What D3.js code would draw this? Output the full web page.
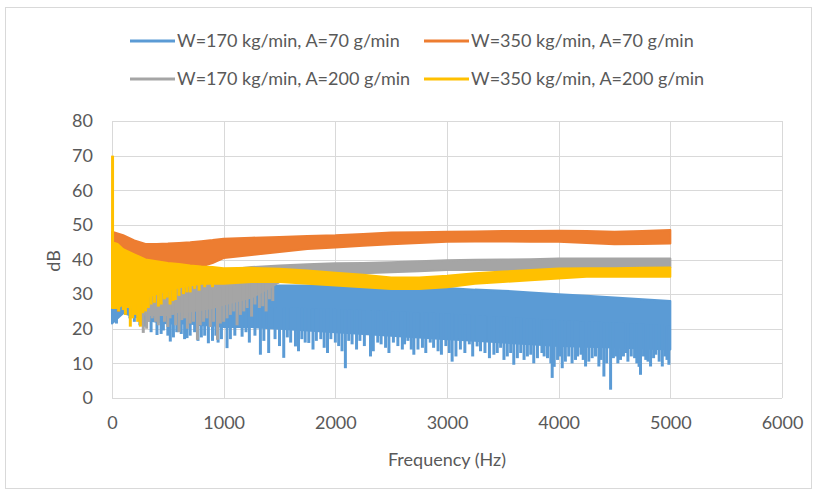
<!DOCTYPE html>
<html>
<head>
<meta charset="utf-8">
<script src="https://cdn.jsdelivr.net/npm/d3@7"></script>
<style>
  body { margin: 0; background: #fff; }
  svg text { font-family: Lato, "Open Sans", sans-serif; fill: #595959; }
</style>
</head>
<body>
<svg id="chart" width="817" height="494"></svg>
<script>
// sample frequencies (Hz) at which the band edges were read
var freqs = [0, 50, 100, 200, 300, 400, 500, 600, 700, 800, 900, 1000, 1250, 1500, 1750, 2000, 2250, 2500, 2750, 3000, 3250, 3500, 3750, 4000, 4250, 4500, 4750, 5000];

// W=170 kg/min, A=70 g/min
var blueTop = [29, 28, 27.5, 27, 28, 29, 30, 30.5, 31, 31, 31.5, 32, 32, 32.5, 32.5, 32.5, 32.3, 32.2, 32, 31.8, 31.3, 31, 30.5, 30, 29.5, 29, 28.5, 28];
var blueBottom = [21.5, 23, 24.5, 23.5, 22.5, 22, 21.5, 21.5, 21.5, 21, 21, 20.5, 20.5, 20, 19.5, 19, 18.5, 18, 17.5, 17, 16.5, 16, 15.5, 15, 14.8, 14.6, 14.3, 14];
var blueSpikes = [[40, 21.5], [160, 23], [200, 22], [250, 21], [298, 20.6], [350, 19], [403, 18.2], [440, 18.5], [460, 19.5], [500, 18], [522, 16.3], [550, 17.5], [580, 19], [620, 18.5], [650, 17], [672, 17.3], [700, 18], [740, 19], [770, 16.5], [800, 17.5], [830, 18], [863, 15.8], [900, 16.5], [930, 18], [950, 16], [980, 17], [1030, 14.4], [1060, 17], [1100, 18], [1165, 17.7], [1200, 19], [1230, 16], [1280, 18], [1329, 12.5], [1360, 16.5], [1403, 13], [1460, 17], [1500, 15], [1538, 11.6], [1570, 17.5], [1600, 16], [1643, 14.9], [1670, 13.5], [1700, 17], [1730, 16], [1762, 15.9], [1800, 14], [1830, 16.5], [1870, 17], [1900, 14.5], [1930, 13], [1960, 17], [2000, 16], [2030, 15], [2060, 13.5], [2090, 8.6], [2120, 16.5], [2150, 15.5], [2190, 14], [2220, 16.5], [2260, 15], [2315, 12], [2340, 13.5], [2380, 16], [2410, 15.5], [2450, 14.5], [2480, 13], [2520, 16], [2560, 15], [2600, 14], [2620, 15.5], [2650, 16.5], [2680, 14], [2703, 12.5], [2740, 14], [2780, 14.5], [2810, 13], [2850, 16], [2880, 14.5], [2920, 13.5], [2950, 12.5], [2990, 15], [3020, 13], [3046, 10.5], [3080, 12], [3120, 14], [3160, 13], [3200, 15.5], [3230, 12], [3270, 14.9], [3300, 13.5], [3340, 13], [3380, 11.5], [3420, 12.5], [3450, 13], [3480, 14.5], [3510, 11], [3540, 12], [3570, 13], [3598, 9.6], [3630, 11.5], [3660, 13], [3690, 11], [3720, 12], [3750, 12.5], [3777, 10], [3810, 11.5], [3850, 13], [3870, 12], [3900, 11.5], [3930, 10], [3942, 5.8], [3960, 9], [3990, 11], [4010, 12], [4032, 8.6], [4060, 10.5], [4090, 12], [4120, 10], [4151, 11], [4170, 12], [4200, 12.5], [4220, 11], [4241, 9.1], [4270, 10.5], [4300, 11.5], [4330, 12], [4360, 9.1], [4380, 11], [4405, 6.2], [4430, 10], [4465, 2.4], [4490, 11.5], [4510, 12], [4530, 10], [4554, 11], [4580, 12], [4600, 13], [4620, 10.5], [4650, 12], [4680, 11.5], [4700, 10], [4720, 9], [4733, 6.7], [4760, 12], [4780, 11], [4800, 10.5], [4823, 9.1], [4850, 11.5], [4870, 12.5], [4900, 10.5], [4928, 9.1], [4950, 12], [4970, 11], [4987, 9.6]];

// W=350 kg/min, A=70 g/min
var orangeTop = [48, 47.5, 47, 45.5, 44.5, 44.5, 44.6, 44.8, 45, 45.3, 45.6, 46, 46.3, 46.5, 46.8, 47, 47.4, 47.8, 47.9, 48, 48.1, 48.2, 48.2, 48.3, 48.2, 48, 48.2, 48.5];
var orangeBottom = [40, 40, 39.5, 39, 38.5, 38.2, 37.9, 37.7, 37.6, 38, 39, 40.4, 41.3, 42.2, 43, 43.5, 44, 44.4, 44.8, 45.1, 45.2, 45.2, 45.1, 45.1, 44.8, 44.4, 44.5, 44.6];
var orangeSpikes = [[57, 25]];

// W=170 kg/min, A=200 g/min
var grayTop = [44, 42, 40, 38.5, 37.5, 37, 36.5, 36.5, 36.5, 36.5, 36.8, 37, 37.8, 38.3, 38.6, 38.9, 39, 39.2, 39.5, 39.8, 39.9, 40, 40.1, 40.3, 40.3, 40.3, 40.3, 40.3];
var grayBottom = [30, 28, 27, 26, 24, 24, 24, 25, 25, 25.5, 26, 27, 29, 33.5, 35, 35.5, 36, 36.3, 36.6, 37, 37, 37, 37, 37.2, 37.4, 37.5, 37.6, 37.7];
var graySpikes = [[260, 21], [280, 18.8], [310, 20], [330, 22], [360, 23], [390, 22], [415, 21], [440, 24.5], [470, 22], [500, 20.5], [520, 23], [545, 24], [570, 21], [600, 19], [625, 22.5], [650, 23], [675, 20], [700, 21.5], [730, 22], [765, 16.8], [790, 21], [820, 22], [850, 23], [880, 20.5], [910, 22], [945, 16.8], [970, 21.5], [1000, 22], [1030, 23], [1060, 24], [1090, 25], [1120, 21], [1150, 24], [1180, 25], [1210, 26], [1250, 23.5], [1280, 27], [1320, 26], [1350, 26.5], [1380, 25], [1410, 28.5], [1440, 28]];

// W=350 kg/min, A=200 g/min
var yellowTop = [45, 44.5, 43, 41.5, 40, 39.5, 39, 38.7, 38.3, 38, 37.8, 37.5, 37.6, 37.3, 36.8, 36.2, 35.6, 34.8, 34.8, 35.3, 36, 36.5, 37, 37.4, 37.5, 37.5, 37.6, 37.7];
var yellowBottom = [26, 26, 27, 27, 29, 30, 31, 32, 32.5, 33, 33, 33, 33.5, 33.5, 33, 32.5, 32, 31.5, 31.5, 32, 33, 33.5, 34, 34.5, 35, 35, 35, 35];
var yellowSpikes = [[5, 70], [20, 28], [35, 26], [60, 25], [80, 27], [101, 25.4], [120, 24], [140, 26], [164, 20.6], [185, 23], [210, 24], [230, 22], [254, 20.6], [275, 24.5], [300, 25], [325, 26], [350, 27], [380, 27.5], [415, 26.4], [440, 27], [470, 28.5], [495, 29], [520, 27], [545, 28], [567, 28.3], [600, 29.5], [640, 30], [670, 30.5], [700, 30.5], [740, 31.5], [780, 31], [830, 32], [900, 32]];

var seriesNames = ["W=170 kg/min, A=70 g/min", "W=350 kg/min, A=70 g/min", "W=170 kg/min, A=200 g/min", "W=350 kg/min, A=200 g/min"];
var seriesColors = ["#5B9BD5", "#ED7D31", "#A5A5A5", "#FFC000"];

var xTicks = [0, 1000, 2000, 3000, 4000, 5000, 6000];
var yTicks = [0, 10, 20, 30, 40, 50, 60, 70, 80];

var series = [
  { name: seriesNames[0], color: seriesColors[0], top: blueTop, bottom: blueBottom, spikes: blueSpikes },
  { name: seriesNames[1], color: seriesColors[1], top: orangeTop, bottom: orangeBottom, spikes: orangeSpikes },
  { name: seriesNames[2], color: seriesColors[2], top: grayTop, bottom: grayBottom, spikes: graySpikes },
  { name: seriesNames[3], color: seriesColors[3], top: yellowTop, bottom: yellowBottom, spikes: yellowSpikes }
];

var svg = d3.select("#chart");

// chart frame
svg.append("rect")
  .attr("x", 5.5).attr("y", 7.5)
  .attr("width", 806).attr("height", 481)
  .attr("fill", "#fff")
  .attr("stroke", "#d9d9d9");

var margin = { left: 112, right: 35, top: 121, bottom: 96 };
var width = 817, height = 494;

var x = d3.scaleLinear().domain([0, 6000]).range([margin.left, width - margin.right]);
var y = d3.scaleLinear().domain([0, 80]).range([height - margin.bottom, margin.top]);

// grid
var grid = svg.append("g");
grid.selectAll(".hgrid")
  .data(yTicks)
  .enter()
  .append("line")
  .attr("x1", x(0)).attr("x2", x(6000))
  .attr("y1", function(d) { return Math.round(y(d)) + 0.5; })
  .attr("y2", function(d) { return Math.round(y(d)) + 0.5; })
  .attr("stroke", "#d9d9d9");
grid.selectAll(".vgrid")
  .data(xTicks)
  .enter()
  .append("line")
  .attr("y1", y(0)).attr("y2", y(80))
  .attr("x1", function(d) { return Math.round(x(d)) + 0.5; })
  .attr("x2", function(d) { return Math.round(x(d)) + 0.5; })
  .attr("stroke", "#d9d9d9");

// axes (labels only, lines come from grid)
var xAxis = svg.append("g")
  .attr("transform", translate(0, y(0)))
  .call(d3.axisBottom(x).tickValues(xTicks).tickSize(0).tickPadding(18).tickFormat(d3.format("d")));
var yAxis = svg.append("g")
  .attr("transform", translate(x(0), 0))
  .call(d3.axisLeft(y).tickValues(yTicks).tickSize(0).tickPadding(19).tickFormat(d3.format("d")));
[xAxis, yAxis].forEach(function(a) {
  a.select(".domain").remove();
  a.selectAll("text").attr("font-size", "18px").attr("fill", "#595959")
    .style("font-family", "Lato, 'Open Sans', sans-serif");
});

// series
var plot = svg.append("g");
series.forEach(function(s) {
  var rows = freqs.map(function(f, i) { return { f: f, top: s.top[i], bottom: s.bottom[i] }; });
  var area = d3.area()
    .x(function(d) { return x(d.f); })
    .y0(function(d) { return y(d.bottom); })
    .y1(function(d) { return y(d.top); });

  plot.append("path")
    .datum(rows)
    .attr("d", area)
    .attr("fill", s.color)
    .attr("stroke", s.color)
    .attr("stroke-width", 2)
    .attr("stroke-linejoin", "round");

  // band middle as a piecewise scale, spikes leave from it
  var mid = d3.scaleLinear().domain(freqs)
    .range(freqs.map(function(f, i) { return (s.top[i] + s.bottom[i]) / 2; }));

  plot.selectAll(null)
    .data(s.spikes)
    .enter()
    .append("line")
    .attr("x1", function(d) { return x(d[0]); })
    .attr("x2", function(d) { return x(d[0]); })
    .attr("y1", function(d) { return y(mid(d[0])); })
    .attr("y2", function(d) { return y(d[1]); })
    .attr("stroke", s.color)
    .attr("stroke-width", 3);
});

// axis titles
svg.append("text")
  .attr("x", (x(0) + x(6000)) / 2)
  .attr("y", 466)
  .attr("text-anchor", "middle")
  .attr("font-size", "18px")
  .text("Frequency (Hz)");

svg.append("text")
  .attr("transform", translate(60, 261) + " rotate(-90)")
  .attr("text-anchor", "middle")
  .attr("font-size", "18px")
  .text("dB");

// legend
var legendPos = [[130, 41], [424, 41], [130, 79], [424, 79]];
var legend = svg.append("g");
var items = legend.selectAll("g")
  .data(series)
  .enter()
  .append("g")
  .attr("transform", function(d, i) { return translate(legendPos[i][0], legendPos[i][1]); });

items.append("line")
  .attr("x1", 0).attr("x2", 45)
  .attr("stroke", function(d) { return d.color; })
  .attr("stroke-width", 3);

items.append("text")
  .attr("x", 47)
  .attr("y", 6)
  .attr("font-size", "18px")
  .text(function(d) { return d.name; });

function translate(x, y) {
  return "translate(" + x + "," + y + ")";
}
</script>
</body>
</html>
